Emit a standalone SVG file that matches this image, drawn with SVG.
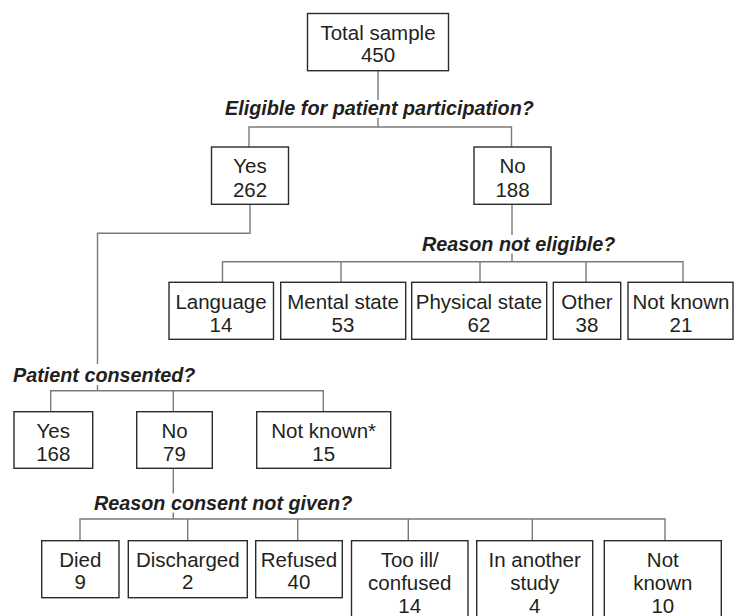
<svg xmlns="http://www.w3.org/2000/svg" width="735" height="616" viewBox="0 0 735 616">
<style>
.box{fill:#fff;stroke:#2b2b2b;stroke-width:1.4}
.t{font-family:"Liberation Sans",Arial,sans-serif;font-size:20.5px;fill:#231f20;text-anchor:middle}
.q{font-family:"Liberation Sans",Arial,sans-serif;font-size:19.8px;font-weight:bold;font-style:italic;fill:#231f20}
.c{fill:none;stroke:#7a7a7a;stroke-width:1.4}
</style>
<rect width="735" height="616" fill="#fff"/>
<g id="connectors">
<path class="c" d="M378 70.7V100M378 118V127M249 147V127H511.5V147"/>
<path class="c" d="M250 204.3V233.3H97.5V364M97.5 385V390.7"/>
<path class="c" d="M50.7 411.7V390.7H323.3V411.7M173.3 390.7V411.7"/>
<path class="c" d="M512 204.3V235M512 253.5V261.7M222.5 282.3V261.7H683V282.3M341 261.7V282.3M480 261.7V282.3M586 261.7V282.3"/>
<path class="c" d="M173.3 468.3V493.5M173.3 512.5V519M80 540.7V519H665V540.7M187.7 519V540.7M297.7 519V540.7M408.3 519V540.7M532.3 519V540.7"/>
</g>
<g id="labels">
<text class="q" x="225" y="115">Eligible for patient participation?</text>
<text class="q" x="422" y="250.7">Reason not eligible?</text>
<text class="q" x="13" y="381.7">Patient consented?</text>
<text class="q" x="94" y="510">Reason consent not given?</text>
</g>
<g id="n-total"><rect class="box" x="307.5" y="13.5" width="141" height="57.2"/><text class="t" x="378" y="39.5">Total sample</text><text class="t" x="378" y="62">450</text></g>
<g id="n-yes"><rect class="box" x="211.5" y="147" width="77" height="57.3"/><text class="t" x="250" y="173.3">Yes</text><text class="t" x="250" y="196.5">262</text></g>
<g id="n-no"><rect class="box" x="474" y="147" width="77" height="57.3"/><text class="t" x="512.5" y="173.3">No</text><text class="t" x="512.5" y="196.5">188</text></g>
<g id="n-language"><rect class="box" x="169" y="282.3" width="104.5" height="57"/><text class="t" x="221" y="308.5">Language</text><text class="t" x="221" y="331.5">14</text></g>
<g id="n-mental"><rect class="box" x="280.7" y="282.3" width="125" height="57"/><text class="t" x="343" y="308.5">Mental state</text><text class="t" x="343" y="331.5">53</text></g>
<g id="n-physical"><rect class="box" x="411.7" y="282.3" width="135" height="57"/><text class="t" x="479" y="308.5">Physical state</text><text class="t" x="479" y="331.5">62</text></g>
<g id="n-other"><rect class="box" x="553.3" y="282.3" width="67.4" height="57"/><text class="t" x="587" y="308.5">Other</text><text class="t" x="587" y="331.5">38</text></g>
<g id="n-notknown1"><rect class="box" x="628" y="282.3" width="105" height="57"/><text class="t" x="681" y="308.5">Not known</text><text class="t" x="681" y="331.5">21</text></g>
<g id="n-yes2"><rect class="box" x="14" y="411.7" width="78.7" height="56.6"/><text class="t" x="53.3" y="437.7">Yes</text><text class="t" x="53.3" y="460.5">168</text></g>
<g id="n-no2"><rect class="box" x="136.7" y="411.7" width="75.6" height="56.6"/><text class="t" x="174.5" y="437.7">No</text><text class="t" x="174.5" y="460.5">79</text></g>
<g id="n-notknown2"><rect class="box" x="256.7" y="411.7" width="134" height="56.6"/><text class="t" x="323.7" y="437.7">Not known*</text><text class="t" x="323.7" y="460.5">15</text></g>
<g id="n-died"><rect class="box" x="41.7" y="540.7" width="77.3" height="57"/><text class="t" x="80.3" y="566.5">Died</text><text class="t" x="80.3" y="589">9</text></g>
<g id="n-discharged"><rect class="box" x="128.3" y="540.7" width="119" height="57"/><text class="t" x="187.8" y="566.5">Discharged</text><text class="t" x="187.8" y="589">2</text></g>
<g id="n-refused"><rect class="box" x="255.7" y="540.7" width="86.6" height="57"/><text class="t" x="299" y="566.5">Refused</text><text class="t" x="299" y="589">40</text></g>
<g id="n-tooill"><rect class="box" x="351.5" y="540.7" width="116.5" height="90"/><text class="t" x="409.7" y="566.7">Too ill/</text><text class="t" x="409.7" y="589.7">confused</text><text class="t" x="409.7" y="612.7">14</text></g>
<g id="n-another"><rect class="box" x="476.7" y="540.7" width="116" height="90"/><text class="t" x="534.7" y="566.7">In another</text><text class="t" x="534.7" y="589.7">study</text><text class="t" x="534.7" y="612.7">4</text></g>
<g id="n-notknown3"><rect class="box" x="604.3" y="540.7" width="117" height="90"/><text class="t" x="662.8" y="566.7">Not</text><text class="t" x="662.8" y="589.7">known</text><text class="t" x="662.8" y="612.7">10</text></g>
</svg>
